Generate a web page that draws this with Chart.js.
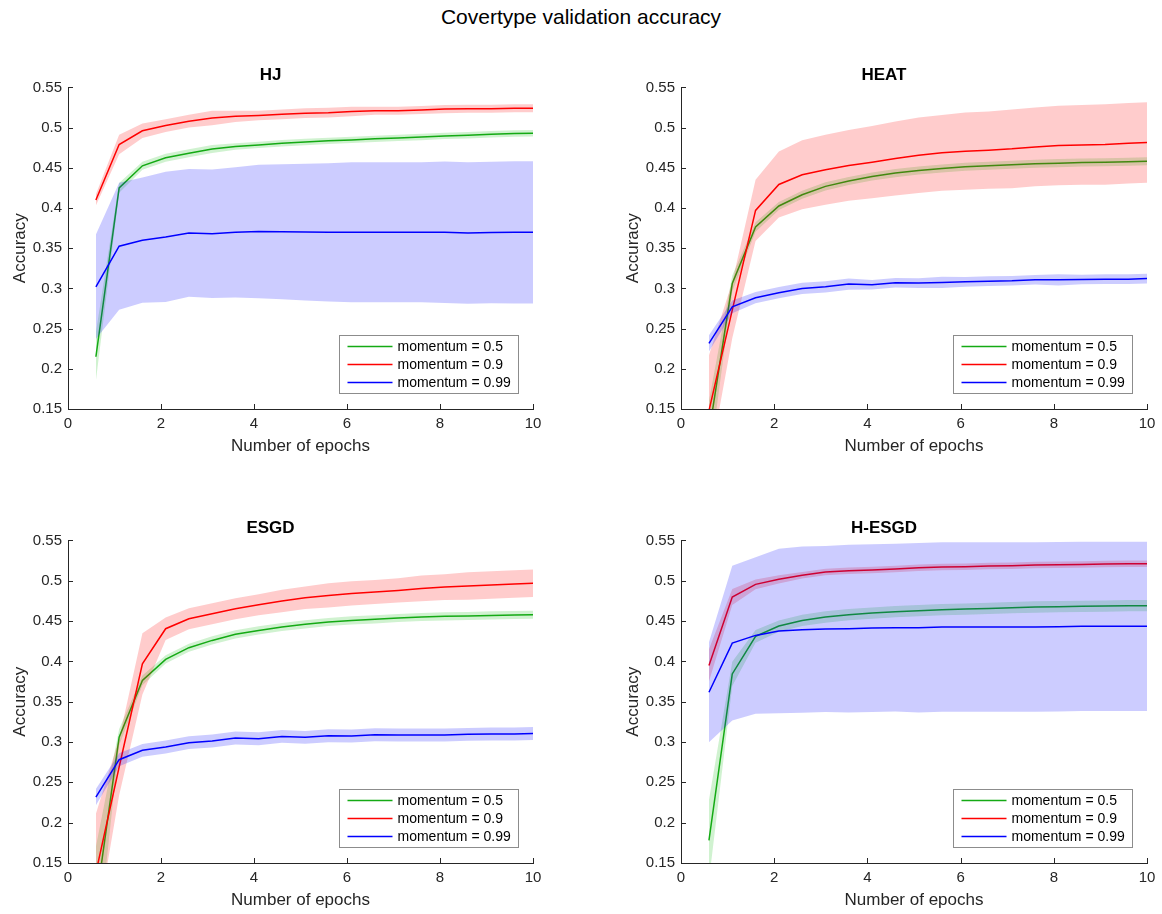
<!DOCTYPE html>
<html>
    <head>
        <meta charset="UTF-8">
        <title>Covertype validation accuracy</title>
        <script src="https://cdn.jsdelivr.net/npm/chart.js"></script>
        <style>
            body { margin: 0; background: #fff; font-family: "Liberation Sans", Arial, sans-serif; }
            #page { position: relative; width: 1162px; height: 914px; }
            #mainTitle { position: absolute; left: 0; top: 4px; width: 1162px; text-align: center; font-size: 21px; line-height: 26px; color: #000; }
            canvas { position: absolute; }
        </style>
    </head>
    <body>
        <div id="page">
            <div id="mainTitle">Covertype validation accuracy</div>
            <canvas id="hj" width="540" height="401" style="left:8px; top:56px;"></canvas>
            <canvas id="heat" width="541" height="401" style="left:621px; top:56px;"></canvas>
            <canvas id="esgd" width="540" height="402" style="left:8px; top:509px;"></canvas>
            <canvas id="hesgd" width="541" height="402" style="left:621px; top:509px;"></canvas>
        </div>
        <script>
        // epochs at which validation accuracy was recorded
        const epochs = [0.6, 1.1, 1.6, 2.1, 2.6, 3.1, 3.6, 4.1, 4.6, 5.1, 5.6, 6.1, 6.6, 7.1, 7.6, 8.1, 8.6, 9.1, 9.6, 10.1];
        const seriesLabels = ['momentum = 0.5', 'momentum = 0.9', 'momentum = 0.99'];
        const yTicks = [0.15, 0.2, 0.25, 0.3, 0.35, 0.4, 0.45, 0.5, 0.55];
        const xTicks = [0, 2, 4, 6, 8, 10];

        // HJ
        const hjGreen = [0.215, 0.425, 0.4525, 0.4624, 0.468, 0.4735, 0.4764, 0.4785, 0.4806, 0.4822, 0.4835, 0.4847, 0.486, 0.4872, 0.4884, 0.4897, 0.4905, 0.4917, 0.4926, 0.493];
        const hjGreenStd = [0.03, 0.006, 0.005, 0.005, 0.005, 0.005, 0.004, 0.004, 0.004, 0.004, 0.004, 0.004, 0.004, 0.004, 0.004, 0.004, 0.004, 0.004, 0.004, 0.004];
        const hjRed = [0.41, 0.479, 0.496, 0.5025, 0.508, 0.512, 0.514, 0.515, 0.5165, 0.518, 0.5186, 0.52, 0.521, 0.521, 0.522, 0.523, 0.5235, 0.5235, 0.524, 0.524];
        const hjRedStd = [0.007, 0.012, 0.009, 0.008, 0.008, 0.009, 0.007, 0.006, 0.006, 0.006, 0.006, 0.006, 0.005, 0.005, 0.005, 0.005, 0.005, 0.005, 0.005, 0.005];
        const hjBlue = [0.302, 0.3525, 0.36, 0.364, 0.369, 0.368, 0.3698, 0.3707, 0.3705, 0.37, 0.3698, 0.3698, 0.3698, 0.3698, 0.3698, 0.3698, 0.369, 0.3695, 0.3698, 0.3698];
        const hjBlueStd = [0.065, 0.079, 0.078, 0.081, 0.0795, 0.08, 0.081, 0.083, 0.084, 0.085, 0.086, 0.087, 0.087, 0.087, 0.087, 0.088, 0.088, 0.088, 0.0885, 0.0885];

        // HEAT
        const heatGreen = [0.12, 0.306, 0.3764, 0.4025, 0.4165, 0.4269, 0.4335, 0.4393, 0.4434, 0.4467, 0.4492, 0.4512, 0.4525, 0.4537, 0.455, 0.4558, 0.4566, 0.457, 0.4574, 0.4583];
        const heatGreenStd = [0.04, 0.01, 0.006, 0.005, 0.005, 0.005, 0.005, 0.005, 0.005, 0.005, 0.005, 0.005, 0.005, 0.005, 0.005, 0.005, 0.005, 0.005, 0.005, 0.005];
        const heatRed = [0.148, 0.273, 0.397, 0.4293, 0.4413, 0.4475, 0.4529, 0.457, 0.4616, 0.4657, 0.4686, 0.4707, 0.4719, 0.4736, 0.476, 0.4777, 0.4785, 0.4789, 0.4806, 0.4818];
        const heatRedStd = [0.069, 0.035, 0.038, 0.041, 0.043, 0.0435, 0.044, 0.045, 0.046, 0.047, 0.047, 0.048, 0.048, 0.049, 0.049, 0.0495, 0.0495, 0.05, 0.05, 0.05];
        const heatBlue = [0.2316, 0.277, 0.2884, 0.2946, 0.3, 0.302, 0.3054, 0.3045, 0.307, 0.3066, 0.3074, 0.3082, 0.309, 0.3095, 0.3107, 0.3107, 0.3111, 0.3115, 0.3115, 0.3124];
        const heatBlueStd = [0.01, 0.008, 0.007, 0.007, 0.007, 0.007, 0.007, 0.006, 0.006, 0.006, 0.007, 0.006, 0.006, 0.006, 0.006, 0.007, 0.006, 0.006, 0.006, 0.006];

        // ESGD
        const esgdGreen = [0.10, 0.306, 0.3764, 0.4025, 0.417, 0.426, 0.4335, 0.4384, 0.4426, 0.4459, 0.4488, 0.4508, 0.4521, 0.4537, 0.455, 0.4558, 0.4562, 0.457, 0.4574, 0.4579];
        const esgdGreenStd = [0.07, 0.01, 0.006, 0.005, 0.005, 0.005, 0.005, 0.005, 0.005, 0.005, 0.005, 0.005, 0.005, 0.005, 0.005, 0.005, 0.005, 0.005, 0.005, 0.005];
        const esgdRed = [0.138, 0.269, 0.397, 0.4405, 0.4529, 0.4591, 0.4653, 0.4702, 0.4748, 0.4789, 0.4818, 0.4843, 0.486, 0.488, 0.4905, 0.4921, 0.4934, 0.4946, 0.4959, 0.4971];
        const esgdRedStd = [0.073, 0.035, 0.038, 0.014, 0.013, 0.013, 0.013, 0.013, 0.014, 0.014, 0.015, 0.015, 0.015, 0.015, 0.016, 0.016, 0.017, 0.017, 0.017, 0.017];
        const esgdBlue = [0.2317, 0.2781, 0.2897, 0.2938, 0.2992, 0.3012, 0.305, 0.3041, 0.307, 0.3058, 0.3078, 0.3074, 0.309, 0.3087, 0.3087, 0.3087, 0.3095, 0.31, 0.31, 0.3107];
        const esgdBlueStd = [0.01, 0.008, 0.008, 0.008, 0.008, 0.008, 0.008, 0.008, 0.008, 0.008, 0.008, 0.008, 0.008, 0.008, 0.008, 0.008, 0.008, 0.008, 0.008, 0.008];

        // H-ESGD
        const hesgdGreen = [0.178, 0.3844, 0.431, 0.4438, 0.4508, 0.455, 0.4579, 0.4599, 0.4616, 0.4628, 0.4641, 0.4649, 0.4657, 0.4666, 0.4674, 0.4678, 0.4682, 0.4686, 0.469, 0.469];
        const hesgdGreenStd = [0.05, 0.015, 0.008, 0.007, 0.007, 0.007, 0.007, 0.007, 0.007, 0.007, 0.007, 0.007, 0.007, 0.007, 0.007, 0.007, 0.007, 0.007, 0.007, 0.007];
        const hesgdRed = [0.395, 0.4798, 0.4955, 0.5017, 0.5067, 0.5108, 0.5124, 0.5132, 0.5145, 0.5161, 0.5169, 0.5174, 0.5182, 0.5186, 0.5194, 0.5198, 0.5202, 0.5207, 0.5211, 0.5211];
        const hesgdRedStd = [0.02, 0.01, 0.006, 0.005, 0.004, 0.004, 0.004, 0.004, 0.004, 0.004, 0.004, 0.004, 0.004, 0.004, 0.004, 0.004, 0.004, 0.004, 0.004, 0.004];
        const hesgdBlue = [0.3617, 0.4227, 0.4322, 0.4376, 0.4393, 0.4401, 0.4405, 0.4413, 0.4417, 0.4417, 0.4426, 0.4426, 0.4426, 0.4426, 0.4426, 0.443, 0.4434, 0.4434, 0.4434, 0.4434];
        const hesgdBlueStd = [0.062, 0.096, 0.097, 0.102, 0.103, 0.103, 0.104, 0.104, 0.104, 0.105, 0.105, 0.105, 0.105, 0.105, 0.105, 0.105, 0.105, 0.105, 0.105, 0.105];

        const lineColors = ['rgb(20,170,20)', 'rgb(255,0,0)', 'rgb(0,0,255)'];
        const bandColors = ['rgba(20,190,20,0.2)', 'rgba(255,0,0,0.2)', 'rgba(0,0,255,0.2)'];
        const axisColor = '#262626';

        Chart.defaults.font.family = '"Liberation Sans", Arial, sans-serif';
        Chart.defaults.color = axisColor;

        function pts(values) {
            return epochs.map((x, i) => ({x: x, y: values[i]}));
        }

        // lower edge, upper edge (filled to lower) and the mean line
        function bandSets(mean, std, k, order) {
            const lower = mean.map((m, i) => m - std[i]);
            const upper = mean.map((m, i) => m + std[i]);
            return [
                {data: pts(lower), borderWidth: 0, pointRadius: 0, fill: false, order: order},
                {data: pts(upper), borderWidth: 0, pointRadius: 0, fill: '-1', backgroundColor: bandColors[k], order: order},
                {data: pts(mean), label: seriesLabels[k], legendEntry: true, borderColor: lineColors[k], borderWidth: 1.5,
                 pointRadius: 0, fill: false, order: order - 1}
            ];
        }

        // MATLAB-style ticks pointing into the axes
        const innerTicks = {
            id: 'innerTicks',
            afterDraw(chart) {
                const ctx = chart.ctx, area = chart.chartArea;
                const xs = chart.scales.x, ys = chart.scales.y;
                ctx.save();
                ctx.strokeStyle = axisColor;
                ctx.lineWidth = 1;
                ctx.beginPath();
                ys.ticks.forEach(t => {
                    const py = Math.round(ys.getPixelForValue(t.value)) + 0.5;
                    ctx.moveTo(area.left, py);
                    ctx.lineTo(area.left + 5, py);
                });
                xs.ticks.forEach(t => {
                    const px = Math.round(xs.getPixelForValue(t.value)) + 0.5;
                    ctx.moveTo(px, area.bottom);
                    ctx.lineTo(px, area.bottom - 5);
                });
                ctx.stroke();
                ctx.restore();
            }
        };

        // boxed legend in the lower right corner of the axes
        const boxLegend = {
            id: 'boxLegend',
            afterDraw(chart) {
                const ctx = chart.ctx, area = chart.chartArea;
                const items = chart.data.datasets.filter(d => d.legendEntry);
                ctx.save();
                ctx.font = '14px "Liberation Sans", Arial, sans-serif';
                const tw = Math.max(...items.map(d => ctx.measureText(d.label).width));
                const w = Math.round(58 + tw + 8), h = 22 + (items.length - 1) * 18;
                const x0 = Math.round(area.right - 15 - w) + 0.5, y0 = Math.round(area.bottom - 16 - h) + 0.5;
                ctx.fillStyle = '#fff';
                ctx.fillRect(x0, y0, w, h);
                ctx.strokeStyle = '#8c8c8c';
                ctx.lineWidth = 1;
                ctx.strokeRect(x0, y0, w, h);
                ctx.textBaseline = 'middle';
                items.forEach((d, i) => {
                    const y = y0 + 11 + i * 18;
                    ctx.strokeStyle = d.borderColor;
                    ctx.lineWidth = 1.5;
                    ctx.beginPath();
                    ctx.moveTo(x0 + 8, y);
                    ctx.lineTo(x0 + 53, y);
                    ctx.stroke();
                    ctx.fillStyle = '#000';
                    ctx.fillText(d.label, x0 + 58, y + 1);
                });
                ctx.restore();
            }
        };

        function makeChart(id, title, green, greenStd, red, redStd, blue, blueStd) {
            const datasets = [].concat(
                bandSets(green, greenStd, 0, 6),
                bandSets(red, redStd, 1, 4),
                bandSets(blue, blueStd, 2, 2)
            );
            return new Chart(document.getElementById(id), {
                type: 'line',
                data: {datasets: datasets},
                plugins: [innerTicks, boxLegend],
                options: {
                    responsive: false,
                    animation: false,
                    devicePixelRatio: 1,
                    layout: {padding: {left: 0, right: 15, top: 0, bottom: 0}},
                    elements: {line: {tension: 0}},
                    plugins: {
                        legend: {display: false},
                        tooltip: {enabled: false},
                        title: {
                            display: true, text: title, color: '#000',
                            font: {size: 17, weight: 'bold'},
                            padding: {top: 9, bottom: 2}
                        }
                    },
                    scales: {
                        x: {
                            type: 'linear', min: 0, max: 10,
                            afterBuildTicks: s => { s.ticks = xTicks.map(v => ({value: v})); },
                            afterFit: s => { s.height = 48; },
                            grid: {display: true, drawOnChartArea: false, drawTicks: false},
                            border: {display: true, color: axisColor, width: 1},
                            ticks: {font: {size: 15}, padding: 6, maxRotation: 0},
                            title: {display: true, text: 'Number of epochs', font: {size: 17}, padding: 0}
                        },
                        y: {
                            type: 'linear', min: 0.15, max: 0.55,
                            afterBuildTicks: s => { s.ticks = yTicks.map(v => ({value: v})); },
                            afterFit: s => { s.width = 60; },
                            grid: {display: true, drawOnChartArea: false, drawTicks: false},
                            border: {display: true, color: axisColor, width: 1},
                            ticks: {font: {size: 15}, padding: 6, callback: v => String(+v.toFixed(2))},
                            title: {display: true, text: 'Accuracy', font: {size: 17}, padding: {top: 2, bottom: 0}}
                        }
                    }
                }
            });
        }

        makeChart('hj', 'HJ', hjGreen, hjGreenStd, hjRed, hjRedStd, hjBlue, hjBlueStd);
        makeChart('heat', 'HEAT', heatGreen, heatGreenStd, heatRed, heatRedStd, heatBlue, heatBlueStd);
        makeChart('esgd', 'ESGD', esgdGreen, esgdGreenStd, esgdRed, esgdRedStd, esgdBlue, esgdBlueStd);
        makeChart('hesgd', 'H-ESGD', hesgdGreen, hesgdGreenStd, hesgdRed, hesgdRedStd, hesgdBlue, hesgdBlueStd);
        </script>
    </body>
</html>
